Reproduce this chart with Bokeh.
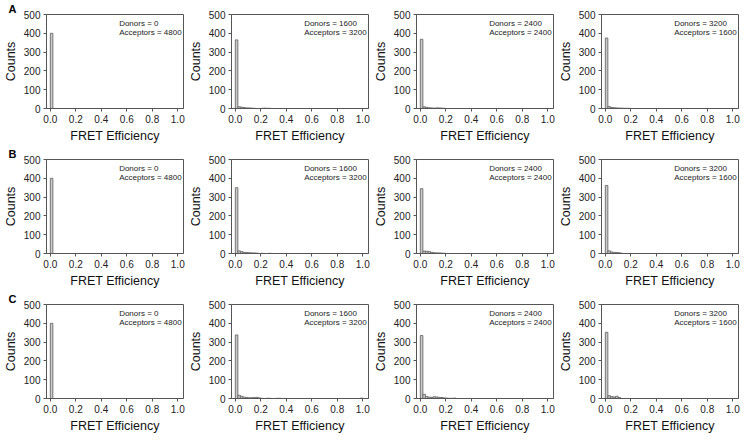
from bokeh.plotting import figure
from bokeh.layouts import gridplot
from bokeh.models import Label, FixedTicker, Range1d, PrintfTickFormatter
from bokeh.embed import file_html
from bokeh.resources import INLINE

bin_width = 0.02
row_letters = ["A", "B", "C"]
donors = [0, 1600, 2400, 3200]
acceptors = [4800, 3200, 2400, 1600]
x_ticks = [0.0, 0.2, 0.4, 0.6, 0.8, 1.0]
y_ticks = [0, 100, 200, 300, 400, 500]

# histogram counts per 0.02-wide bin starting at FRET = 0
counts_A1 = [400]
counts_A2 = [365, 9, 7, 5, 3, 3, 2, 1, 0, 0, 1, 2, 1, 1]
counts_A3 = [368, 9, 6, 4, 3, 2, 3, 3, 2, 1]
counts_A4 = [375, 10, 5, 4, 3, 2, 2, 1, 1, 1]
counts_B1 = [400]
counts_B2 = [350, 14, 10, 6, 5, 4, 3, 3, 2, 0, 1, 0, 0, 1]
counts_B3 = [345, 13, 12, 10, 6, 4, 3, 3, 2, 1]
counts_B4 = [362, 14, 8, 6, 5, 4, 1]
counts_C1 = [400]
counts_C2 = [338, 17, 12, 7, 5, 4, 4, 5, 6, 3, 1, 0, 1, 1, 0, 0, 1, 1, 0, 0,
             0, 0, 0, 0, 0, 0, 0, 0, 0, 0, 0, 0, 0, 0, 0, 0, 0, 0, 0, 0,
             0, 0, 0, 0, 0, 0, 0, 0, 0, 2]
counts_C3 = [335, 22, 10, 7, 6, 9, 8, 6, 5, 3, 2, 1, 1, 2]
counts_C4 = [352, 15, 10, 8, 12, 5]

all_counts = [
    [counts_A1, counts_A2, counts_A3, counts_A4],
    [counts_B1, counts_B2, counts_B3, counts_B4],
    [counts_C1, counts_C2, counts_C3, counts_C4],
]

FONT = "Liberation Sans"

rows = []
for r, row_counts in enumerate(all_counts):
    row = []
    for c, counts in enumerate(row_counts):
        p = figure(width=185, height=145, output_backend="svg",
                   toolbar_location=None, x_range=Range1d(-0.03, 1.045),
                   y_range=Range1d(0, 500),
                   min_border_left=40, min_border_right=2,
                   min_border_top=14, min_border_bottom=33)
        lefts = [i * bin_width for i in range(len(counts))]
        rights = [(i + 1) * bin_width for i in range(len(counts))]
        p.quad(left=lefts, right=rights, top=counts, bottom=0,
               fill_color="#cacaca", line_color="#6a6a6a", line_width=0.9)
        p.xgrid.visible = False
        p.ygrid.visible = False
        p.outline_line_color = "#555555"
        p.outline_line_width = 1
        p.background_fill_color = "white"
        p.border_fill_color = "white"
        p.xaxis.ticker = FixedTicker(ticks=x_ticks)
        p.xaxis.formatter = PrintfTickFormatter(format="%.1f")
        p.yaxis.ticker = FixedTicker(ticks=y_ticks)
        for ax in (p.xaxis, p.yaxis):
            ax.axis_line_color = "#555555"
            ax.major_tick_line_color = "#555555"
            ax.major_tick_out = 3
            ax.major_tick_in = 0
            ax.minor_tick_line_color = None
            ax.major_label_text_font = FONT
            ax.major_label_text_font_size = "10px"
            ax.major_label_text_color = "#222222"
            ax.major_label_standoff = 3
            ax.axis_label_text_font = FONT
            ax.axis_label_text_font_size = "12.5px"
            ax.axis_label_text_font_style = "normal"
            ax.axis_label_text_color = "#111111"
            ax.axis_label_standoff = 3
        p.xaxis.axis_label = "FRET Efficiency"
        p.yaxis.axis_label = "Counts"

        p.add_layout(Label(x=0.54, y=452, text=f"Donors = {donors[c]}",
                           text_font=FONT, text_font_size="8px",
                           text_baseline="middle", text_align="left",
                           text_color="#222222"))
        p.add_layout(Label(x=0.54, y=405, text=f"Acceptors = {acceptors[c]}",
                           text_font=FONT, text_font_size="8px",
                           text_baseline="middle", text_align="left",
                           text_color="#222222"))
        if c == 0:
            p.title.text = row_letters[r]
            p.title.align = "left"
            p.title.offset = -38
            p.title.standoff = 0
            p.title.text_font = FONT
            p.title.text_font_size = "11px"
            p.title.text_font_style = "bold"
            p.title.text_color = "black"
        row.append(p)
    rows.append(row)

grid = gridplot(rows, toolbar_location=None)
open("out.html", "w").write(file_html(grid, INLINE))
